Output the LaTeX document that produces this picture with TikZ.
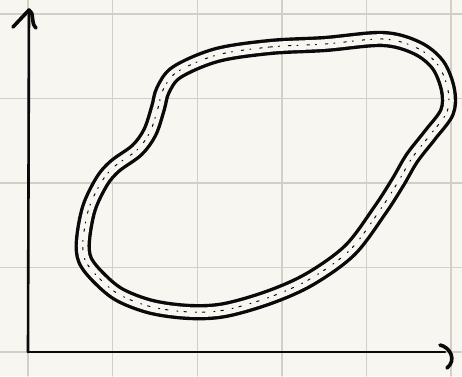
\documentclass[tikz,border=0pt]{standalone}
\usepackage{tikz}
\usetikzlibrary{calc}
\definecolor{paper}{HTML}{F8F6F1}
\definecolor{gridline}{HTML}{D3CFC7}
\definecolor{ink}{HTML}{0A0A0A}

\begin{document}
\begin{tikzpicture}[x=1pt,y=-1pt,line cap=round,line join=round]
  % Paper and grid
  \fill[paper] (0,0) rectangle (462,376);
  \useasboundingbox (0,0) rectangle (462,376);
  \foreach \gx in {28,112.6,197.2,281.8,366.4,451} {
    \draw[gridline,line width=1.4pt] (\gx,0) -- (\gx,376);
  }
  \foreach \gy in {14,98.5,183,267.5,352} {
    \draw[gridline,line width=1.4pt] (0,\gy) -- (462,\gy);
  }

  % Axes
  \coordinate (origin) at (28,352);
  \coordinate (ytop) at (29,10);
  \coordinate (xend) at (445,352);
  \draw[ink,line width=2.6pt] (origin) -- (ytop);
  \draw[ink,line width=2.6pt] (origin) -- (xend);
  % hand-drawn tips
  \draw[ink,line width=3.6pt] (13,27) -- (ytop) .. controls (35,13) and (30,22) .. (36,28);
  \draw[ink,line width=3.6pt] (440,345) .. controls (450,347) and (457,360) .. (447,368);

  % The blob (outline band)
  \def\blob{(217,55) (270,47) (325,44) (383,39) (417,48) (438,65) (448,90)
    (447,112) (430,135) (412,158) (398,182) (380,210) (350,250) (310,279)
    (270,297) (225,310) (190,312) (152,307) (120,295) (99,278) (85,260)
    (83,240) (89,208) (102,181) (115,166) (137,150) (150,132) (158,108)
    (163,90) (177,72)}
  \draw[ink,line width=3.4pt,double=paper,double distance=9.5pt]
    plot[smooth cycle,tension=0.55] coordinates {\blob};
  % speckles inside the band
  \draw[ink,line width=1pt,dash pattern=on 2.5pt off 6pt on 1pt off 9pt]
    plot[smooth cycle,tension=0.55] coordinates {\blob};
\end{tikzpicture}
\end{document}
